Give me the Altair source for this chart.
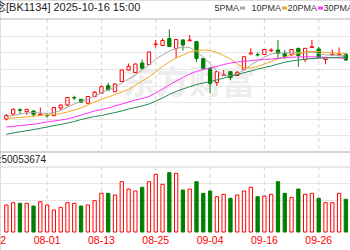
import altair as alt
import pandas as pd

# ---------------- data ----------------
dates = ["07-24","07-25","07-28","07-29","07-30","07-31","08-01","08-04","08-05","08-06",
         "08-07","08-08","08-11","08-12","08-13","08-14","08-15","08-18","08-19","08-20",
         "08-21","08-22","08-25","08-26","08-27","08-28","08-29","09-01","09-02","09-03",
         "09-04","09-05","09-08","09-09","09-10","09-11","09-12","09-15","09-16","09-17",
         "09-18","09-19","09-22","09-23","09-24","09-25","09-26","09-29","09-30","10-09","10-10"]

opens  = [33,38,42.3,40.3,41,37.2,36.5,36.3,44,47,
          54.5,52.7,48.7,55.3,58.7,66.3,60.3,70.5,82,79.5,
          89,87.5,107.5,106.5,113.5,103.5,112,111.2,110.3,93.5,
          83.7,69.5,76.7,80.3,76.5,82.7,98,97.5,97.5,101.3,
          102,98.7,97.7,103.7,92.5,104.5,103,92.5,97,97,97.7]
closes = [36.5,42.7,41.8,42.7,37.7,38,36.2,44.5,47,54.5,
          54,49.7,55.5,59.7,65.3,62,68,82,85.5,88,
          83.7,100,108,111.5,105.5,112.5,107,112,93.5,83.7,
          68.7,80.3,77.5,74.5,79.7,95.3,99,97,102.5,102,
          98.5,95.3,102.5,96.5,103.7,105.3,94.5,94.5,97.7,97.7,92]
highs  = [38,43.5,43.5,43,42,44.5,38.7,45,47.5,55,
          56.3,53,56,61,66.5,69.3,68.5,82.5,88.5,88.5,
          92.5,100.5,112,113.5,122.5,113,113,117,111,94,
          85.3,81,82,81,81,96,103.7,99.7,103,103.7,
          112,102,103,104,104,112,105,95,102.5,104.5,99]
lows   = [31.5,37,38,37,35.3,37,34.5,36,42,46,
          52,49.5,48.5,55,58.5,61.5,60,70,81.5,79,
          82,87,104.5,106,105,94,101.5,111,90,82,
          59,66,76.5,72,76,82,97.5,95.5,97,100,
          93.5,93,96,85.3,90,104.3,94,87.7,96.7,96.7,91]

volumes = [27,29.3,28.7,28.7,26,30.3,27,22,24.7,29.3,
           28.7,26,27,31.3,38.7,38.7,37,50.3,43,41,
           44.7,50.3,57.7,47.7,59.3,58.7,42,43,50.3,38.7,
           41,35.3,37.7,33.7,37,41,44.7,35.3,36,37.7,
           50.3,38.7,34.7,43,37.7,38.7,33.7,29.3,29.3,38.7,32.7]
vol_dir = ["up","up","down","up","down","up","up","up","up","up",
           "up","down","up","up","up","down","up","up","up","up",
           "down","up","up","up","down","up","down","up","down","down",
           "down","up","up","down","up","up","up","down","up","up",
           "down","down","up","down","up","up","down","up","up","up","down"]

ma5  = [35.5,36.5,38,39,39.5,39,38.5,39.5,41.5,45,
        48,50.5,52.5,56,59,62.5,65,69,73,77,
        82,87,93,97,101,103.5,105,104.5,100.5,95,
        88.5,81,77,76,78,82,87,91,95,98,
        99,99,99.5,99.5,99,100,98.5,97,97,96.5,96]
ma10 = [33.5,34,34.5,35,36,36.5,37,37.5,38.5,40,
        42,44,47,50,52.5,55,57.5,60,62.5,67,
        71,75,80,85.5,90,94,97,100,101.5,102,
        101.5,99.5,96.5,93,88,84.5,84,85.5,88,90.5,
        93,95,97,98.5,100,100.5,100.5,99.5,99,98.5,98]
ma20 = [25,25.7,26.4,27.1,27.7,28.8,30,31,32,33,
        35,37,39,41,42.5,44,46,48,50,52,
        53.5,55.5,59,63,67,71,74.5,78,80.5,82.5,
        84,85.5,87.5,89,90,90.7,91.3,92,92.5,93,
        93.7,94.3,94.7,95,95.2,95.2,95,94.7,94.4,94,93.7]
ma30 = [17.7,19,20.2,21.3,22.4,23.7,25,26.4,27.5,29,
        30.5,32.5,34,35.5,36.5,38,39.5,41,43,44.5,
        46,48,51,54,57.5,60.5,63,65.3,67.5,69,
        70.5,72,74,75.8,77.5,79.3,81,83,84.5,86,
        88,89.7,91,92,92.8,93.5,93.8,94,94.3,94.7,95]

tick_labels = ["07-22","08-01","08-13","08-25","09-04","09-16","09-26"]
tick_index  = [-2, 6, 14, 22, 30, 38, 46]

ma_names  = ["5PMA", "10PMA", "20PMA", "30PMA"]
ma_colors = ["#a9a9a9", "#f5a623", "#ff33ff", "#228b50"]

price_levels = [16.6, 33.25, 49.9, 66.5, 83.1, 99.75, 116.4]
vol_levels = [16.25, 32.5, 48.75]

# ---------------- tables ----------------
idx = list(range(len(dates)))
df = pd.DataFrame({"i": idx, "date": dates, "open": opens, "close": closes,
                   "high": highs, "low": lows, "vol": volumes, "vdir": vol_dir})
df["dir"] = ["up" if c >= o else "down" for o, c in zip(opens, closes)]

ma_rows = []
for name, series in zip(ma_names, [ma5, ma10, ma20, ma30]):
    for i, v in zip(idx, series):
        ma_rows.append({"i": i, "ma": name, "v": v})
ma_df = pd.DataFrame(ma_rows)

ticks_df = pd.DataFrame({"i": tick_index, "label": tick_labels})
one = pd.DataFrame({"a": [0]})

# ---------------- scales ----------------
xs = alt.Scale(domain=[-0.2, 49.87], nice=False, zero=False)
ps = alt.Scale(domain=[0, 133], range=[152, 19], nice=False, zero=False)
vs = alt.Scale(domain=[0, 65], range=[232, 167], nice=False, zero=False)
dir_stroke = alt.Scale(domain=["up", "down"], range=["#ff0000", "#008000"])
dir_fill = alt.Scale(domain=["up", "down"], range=["#ffffff", "#008000"])
FONT = "Liberation Sans, Noto Sans CJK SC, sans-serif"

layers = []

# watermark
layers.append(alt.Chart(one).mark_text(
    text="东方财富", font="Noto Sans CJK SC", fontSize=33, fontWeight="bold",
    color="#ededed", align="center", baseline="middle"
).encode(x=alt.value(189), y=alt.value(84)))

# vertical dashed gridlines
for y0, y1 in [(19, 152), (167, 232)]:
    layers.append(alt.Chart(ticks_df).mark_rule(
        color="#d6d6d6", strokeWidth=1, strokeDash=[4, 3]
    ).encode(x=alt.X("i:Q", scale=xs, axis=None), y=alt.value(y0), y2=alt.value(y1)))

# panel borders
for yy, col in [(19, "#b4b4b4"), (152, "#a8a8a8"), (167, "#d2d2d2")]:
    layers.append(alt.Chart(one).mark_rule(color=col, strokeWidth=1).encode(
        x=alt.value(0), x2=alt.value(350), y=alt.value(yy)))

# wicks (carry the price grid)
layers.append(alt.Chart(df).mark_rule(strokeWidth=1).encode(
    x=alt.X("i:Q", scale=xs, axis=None),
    y=alt.Y("high:Q", scale=ps, axis=alt.Axis(values=price_levels, grid=True, gridColor="#e6e6e6",
                                               labels=False, ticks=False, domain=False, title=None)),
    y2="low:Q",
    stroke=alt.Stroke("dir:N", scale=dir_stroke, legend=None)))

# bodies
layers.append(alt.Chart(df).mark_bar(size=3.3, strokeWidth=1).encode(
    x=alt.X("i:Q", scale=xs, axis=None),
    y=alt.Y("open:Q", scale=ps, axis=None),
    y2="close:Q",
    stroke=alt.Stroke("dir:N", scale=dir_stroke, legend=None),
    fill=alt.Fill("dir:N", scale=dir_fill, legend=None)))

# moving averages
layers.append(alt.Chart(ma_df).mark_line(strokeWidth=1).encode(
    x=alt.X("i:Q", scale=xs, axis=None),
    y=alt.Y("v:Q", scale=ps, axis=None),
    color=alt.Color("ma:N", scale=alt.Scale(domain=ma_names, range=ma_colors), legend=None),
    detail="ma:N"))

# volume bars (carry the volume grid)
layers.append(alt.Chart(df).mark_bar(size=3.3, strokeWidth=1).encode(
    x=alt.X("i:Q", scale=xs, axis=None),
    y=alt.Y("vol:Q", scale=vs, axis=alt.Axis(values=vol_levels, grid=True, gridColor="#e6e6e6",
                                            labels=False, ticks=False, domain=False, title=None)),
    stroke=alt.Stroke("vdir:N", scale=dir_stroke, legend=None),
    fill=alt.Fill("vdir:N", scale=dir_fill, legend=None)))

# header text
layers.append(alt.Chart(one).mark_text(
    text="念[BK1134] 2025-10-16 15:00", font=FONT, fontSize=11, color="#222222",
    align="left", baseline="middle").encode(x=alt.value(-5), y=alt.value(8)))

# legend: name ends just before its colour swatch
swatch_x = [240, 282, 318, 354]
for name, col, sx in zip(ma_names, ma_colors, swatch_x):
    layers.append(alt.Chart(one).mark_text(
        text=name, font=FONT, fontSize=9, color="#333333", align="right", baseline="middle"
    ).encode(x=alt.value(sx - 1), y=alt.value(8)))
    layers.append(alt.Chart(one).mark_rect(color=col).encode(
        x=alt.value(sx), x2=alt.value(sx + 5), y=alt.value(6.5), y2=alt.value(9.5)))

# volume header
layers.append(alt.Chart(one).mark_text(
    text="成交量:50053674", font=FONT, fontSize=10, color="#222222",
    align="right", baseline="middle").encode(x=alt.value(46), y=alt.value(159.5)))

# date labels
layers.append(alt.Chart(ticks_df).mark_text(
    font=FONT, fontSize=10.5, color="#ff0000", align="center", baseline="middle").encode(
    x=alt.X("i:Q", scale=xs, axis=None), y=alt.value(240.7), text="label:N"))

chart = alt.layer(*layers).resolve_scale(
    y="independent", color="independent", stroke="independent", fill="independent"
).properties(
    width=350, height=250, padding=0, autosize=alt.AutoSizeParams(type="none")
).configure_view(stroke=None).configure(background="white")

chart.save("out.html", embed_options={"renderer": "svg", "actions": False})
